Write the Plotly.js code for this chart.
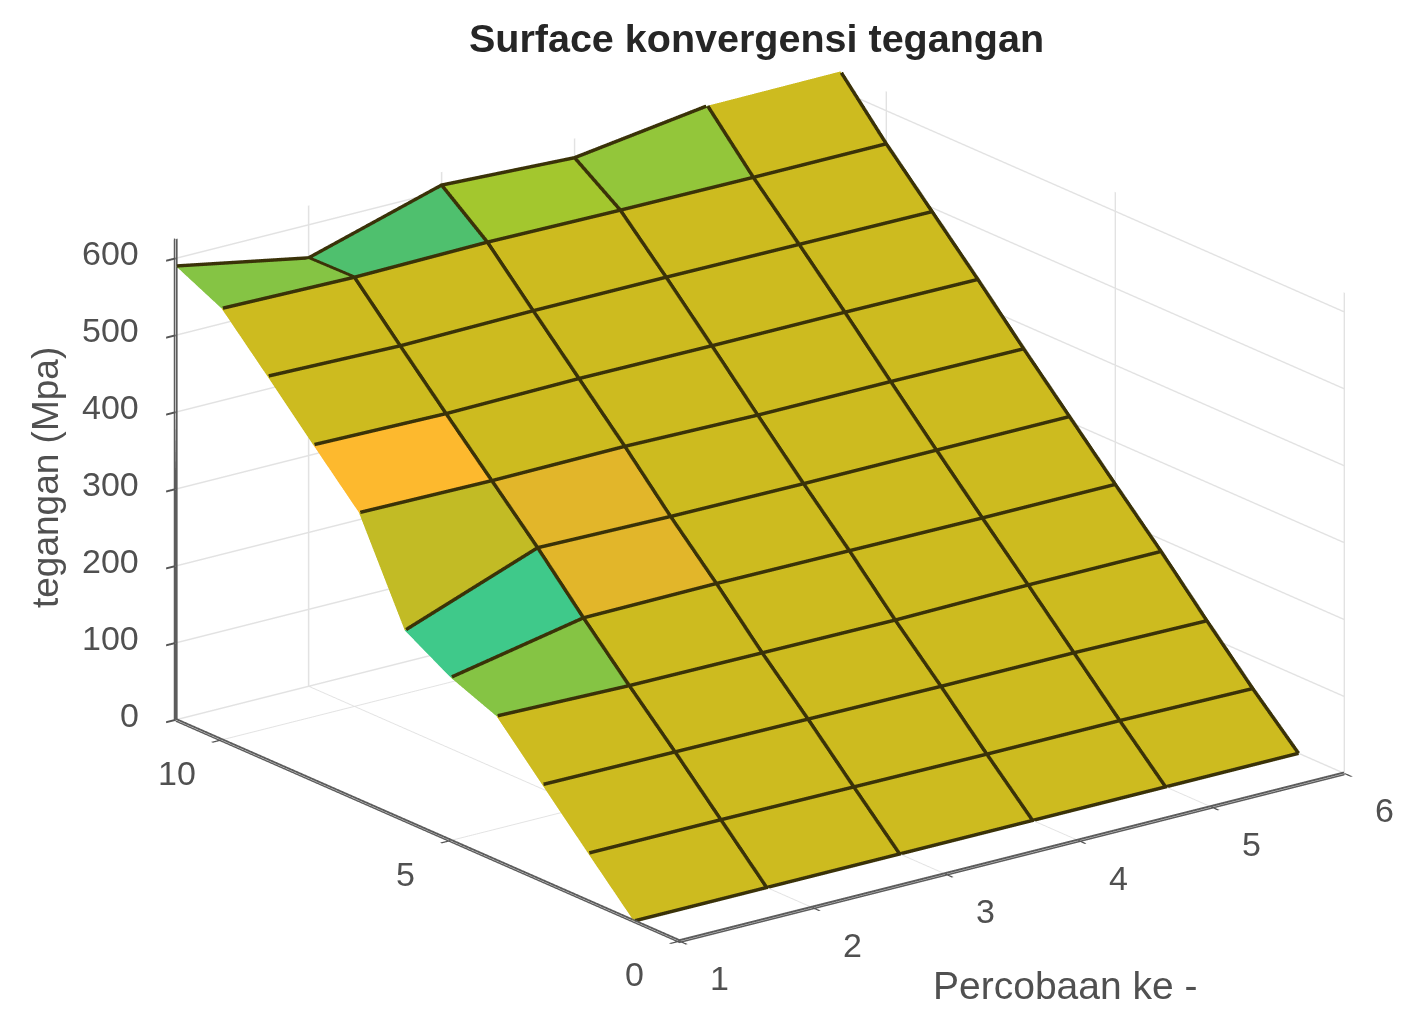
<!DOCTYPE html>
<html><head><meta charset="utf-8">
<script src="https://cdn.plot.ly/plotly-3.0.1.min.js"></script>
<style>html,body{margin:0;padding:0;background:#fff}#c{width:1422px;height:1033px}</style>
</head><body><div id="c"></div>
<script>
var percobaan = [1,2,3,4,5,6];
var iterasi = [1,2,3,4,5,6,7,8,9,10,11];
var xTicks = [1,2,3,4,5,6];
var yTicks = [0,5,10];
var zTicks = [0,100,200,300,400,500,600];
var p1 = [0,62,125,188,212,247,374,436,499,561,590];
var p2 = [0,62,124,184,246,311,372,433,495,558,557];
var p3 = [0,61,123,183,247,308,373,435,497,560,608];
var p4 = [0,60,122,182,246,307,370,434,497,558,600];
var p5 = [0,60,122,184,245,307,370,434,496,557,624];
var p6 = [0,58,120,184,245,307,369,433,495,557,625];
var tegangan = [p1,p2,p3,p4,p5,p6];
var O='#cdbb1f', A='#fdb92e', B='#e2b62a', C='#c2bb25', T='#3fc98a', G='#85c444', L='#a3c72e', M='#93c63a', N='#4fc06e';
var warna1 = [O,O,O,G,T,C,A,O,O,G];
var warna2 = [O,O,O,O,B,B,O,O,O,N];
var warna3 = [O,O,O,O,O,O,O,O,O,L];
var warna4 = [O,O,O,O,O,O,O,O,O,M];
var warna5 = [O,O,O,O,O,O,O,O,O,O];
var warna = [warna1,warna2,warna3,warna4,warna5];

var vx=[],vy=[],vz=[],fi=[],fj=[],fk=[],fc=[];
var nx=percobaan.length, ny=iterasi.length;
percobaan.forEach(function(x,a){iterasi.forEach(function(y,b){vx.push(x);vy.push(y);vz.push(tegangan[a][b]);});});
function id(a,b){return a*ny+b;}
for(var a=0;a<nx-1;a++){for(var b=0;b<ny-1;b++){
  fi.push(id(a,b),id(a,b));fj.push(id(a+1,b),id(a+1,b+1));fk.push(id(a+1,b+1),id(a,b+1));
  fc.push(warna[a][b],warna[a][b]);
}}
// the edge lines sit a hair towards the camera so that the faces do not swallow half their width
var liftX=-0.0106, liftY=-0.0306, liftZ=1.25;
var lx=[],ly=[],lz=[];
function put(a,b){lx.push(percobaan[a]+liftX);ly.push(iterasi[b]+liftY);lz.push(tegangan[a][b]+liftZ);}
function gap(){lx.push(null);ly.push(null);lz.push(null);}
for(a=0;a<nx;a++){for(b=0;b<ny;b++){put(a,b);}gap();}
for(b=0;b<ny;b++){for(a=0;a<nx;a++){put(a,b);}gap();}

var R=1, cx=-0.0796, cy=0.0521, cz=-0.0187;
var FONT='Liberation Sans, Arial, sans-serif';
var ax={showbackground:false,showgrid:true,gridcolor:'#e2e2e2',gridwidth:3,showline:true,linecolor:'#5c5c5c',linewidth:8,
  ticks:'outside',ticklen:12,tickwidth:4,tickcolor:'#555555',zeroline:false,showspikes:false,showticklabels:false,title:{text:''}};
function axis(range,vals){return Object.assign({},ax,{range:range,tickmode:'array',tickvals:vals,autorange:false});}
var tickFont={family:FONT,size:34,color:'#505050'};
function lab(x,y,z,t,dx,dy,anchor){return {x:x,y:y,z:z,text:String(t),showarrow:false,xanchor:anchor||'center',yanchor:'middle',xshift:dx,yshift:dy,font:tickFont};}
var sceneNotes=[].concat(
  xTicks.map(function(v){return lab(v,0,0,v,40,-37);}),
  yTicks.map(function(v){return lab(1,v,0,v,-45,-33);}),
  zTicks.map(function(v){return lab(1,11,v,v,-35,5,'right');})
);
var data=[
 {type:'mesh3d',x:vx,y:vy,z:vz,i:fi,j:fj,k:fk,facecolor:fc,flatshading:true,hoverinfo:'skip',showscale:false,
  lighting:{ambient:1,diffuse:0,specular:0,roughness:1,fresnel:0},lightposition:{x:0,y:0,z:1000}},
 {type:'scatter3d',mode:'lines',x:lx,y:ly,z:lz,line:{color:'#3a3208',width:7},connectgaps:false,hoverinfo:'skip',showlegend:false}
];
var layout={width:1422,height:1033,margin:{l:0,r:0,t:0,b:0},paper_bgcolor:'#fff',showlegend:false,
 title:{text:'<b>Surface konvergensi tegangan</b>',font:{family:FONT,size:39.5,color:'#262626'},x:0.532,xanchor:'center',y:0.963,yanchor:'middle'},
 scene:{domain:{x:[0,1],y:[0,1]},aspectmode:'manual',aspectratio:{x:1.615,y:1.615,z:0.987},
  xaxis:axis([1,6],xTicks),yaxis:axis([0,11],yTicks),zaxis:axis([0,625],zTicks),annotations:sceneNotes,
  camera:{projection:{type:'orthographic'},up:{x:0,y:0,z:1},center:{x:cx,y:cy,z:cz},eye:{x:-0.5696*R+cx,y:-0.7516*R+cy,z:0.333*R+cz}}},
 annotations:[
  {text:'Percobaan ke -',xref:'paper',yref:'paper',x:1065/1422,y:1-985/1033,showarrow:false,xanchor:'center',yanchor:'middle',font:{family:FONT,size:39,color:'#505050'}},
  {text:'tegangan (Mpa)',xref:'paper',yref:'paper',x:45/1422,y:1-478/1033,showarrow:false,textangle:-90,xanchor:'center',yanchor:'middle',font:{family:FONT,size:37,color:'#505050'}}
 ]};
Plotly.newPlot('c',data,layout,{displayModeBar:false});
</script></body></html>
